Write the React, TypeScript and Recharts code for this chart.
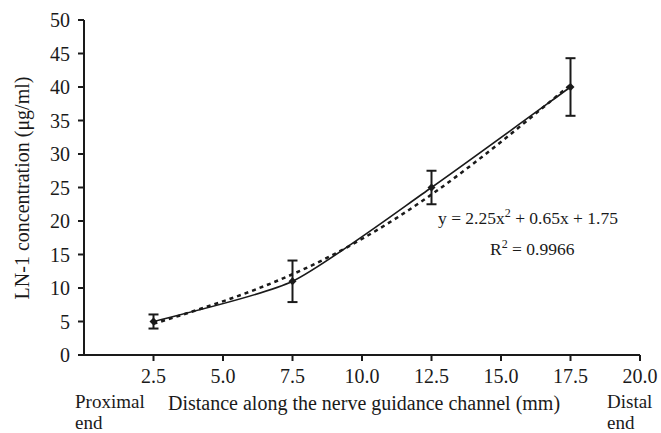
import React from "react";
import { ComposedChart, Line, XAxis, YAxis, ErrorBar } from "recharts";

const positions = [2.5, 7.5, 12.5, 17.5];
const measured = [5, 11, 25, 40];
const errors = [1.05, 3.1, 2.5, 4.3];
const trend = [4.65, 12.05, 23.95, 40.35];
const xTicks = [2.5, 5.0, 7.5, 10.0, 12.5, 15.0, 17.5, 20.0];
const yTicks = [0, 5, 10, 15, 20, 25, 30, 35, 40, 45, 50];

const data = positions.map((x, i) => ({
  x,
  y: measured[i],
  err: errors[i],
  trend: trend[i],
}));

const FONT = "'Liberation Serif', 'Times New Roman', serif";
const INK = "#1a1a1a";

// Spreadsheet-style smoothing (cardinal spline with a low tension factor)
const smoothCurve = (context: any) => {
  let pts: [number, number][] = [];
  return {
    areaStart() {},
    areaEnd() {},
    lineStart() {
      pts = [];
    },
    point(x: number, y: number) {
      pts.push([+x, +y]);
    },
    lineEnd() {
      const k = 0.11;
      const n = pts.length;
      if (!n) return;
      context.moveTo(pts[0][0], pts[0][1]);
      for (let i = 0; i < n - 1; i++) {
        const p0 = pts[Math.max(0, i - 1)];
        const p1 = pts[i];
        const p2 = pts[i + 1];
        const p3 = pts[Math.min(n - 1, i + 2)];
        const c1x = p1[0] + k * (p2[0] - p0[0]);
        const c1y = p1[1] + k * (p2[1] - p0[1]);
        const c2x = p2[0] - k * (p3[0] - p1[0]);
        const c2y = p2[1] - k * (p3[1] - p1[1]);
        context.bezierCurveTo(c1x, c1y, c2x, c2y, p2[0], p2[1]);
      }
    },
  };
};

const Diamond = (props: any) => {
  const { cx, cy } = props;
  if (cx == null || cy == null) return null;
  const r = 4;
  return (
    <path
      d={`M${cx},${cy - r}L${cx + r},${cy}L${cx},${cy + r}L${cx - r},${cy}Z`}
      fill={INK}
      stroke="none"
    />
  );
};

const textStyle: React.CSSProperties = {
  position: "absolute",
  fontFamily: FONT,
  fontSize: 19,
  color: INK,
  whiteSpace: "nowrap",
  lineHeight: "21px",
  height: 21,
};

export default function App() {
  return (
    <div
      style={{
        position: "relative",
        width: 661,
        height: 433,
        background: "#fff",
        overflow: "hidden",
      }}
    >
      <style>{"body{margin:0;}"}</style>
      <ComposedChart
        width={661}
        height={433}
        data={data}
        margin={{ top: 20, right: 21, bottom: 0, left: 0 }}
      >
        <XAxis
          dataKey="x"
          type="number"
          domain={[0, 20]}
          ticks={xTicks}
          tickFormatter={(v: number) => v.toFixed(1)}
          height={78}
          tickSize={6}
          tickMargin={8}
          stroke={INK}
          strokeWidth={2}
          tick={{ fill: INK, fontFamily: FONT, fontSize: 20 }}
        />
        <YAxis
          type="number"
          domain={[0, 50]}
          ticks={yTicks}
          width={84}
          tickSize={6}
          tickMargin={8}
          stroke={INK}
          strokeWidth={2}
          tick={{ fill: INK, fontFamily: FONT, fontSize: 20 }}
        />
        <Line
          type="natural"
          dataKey="trend"
          stroke={INK}
          strokeWidth={2.5}
          strokeDasharray="4 4"
          dot={false}
          isAnimationActive={false}
        />
        <Line
          type={smoothCurve as any}
          dataKey="y"
          stroke={INK}
          strokeWidth={1.6}
          dot={<Diamond />}
          isAnimationActive={false}
        >
          <ErrorBar dataKey="err" width={5} stroke={INK} strokeWidth={2} direction="y" />
        </Line>
      </ComposedChart>
      <div
        style={{
          ...textStyle,
          fontSize: 20,
          height: "auto",
          lineHeight: "22px",
          left: 22,
          top: 188,
          transform: "translate(-50%, -50%) rotate(-90deg)",
        }}
      >
        LN-1 concentration (μg/ml)
      </div>
      <div style={{ ...textStyle, left: 75, top: 391 }}>Proximal</div>
      <div style={{ ...textStyle, left: 75, top: 412 }}>end</div>
      <div
        style={{
          ...textStyle,
          fontSize: 20,
          lineHeight: "22px",
          height: 22,
          left: 168,
          top: 392,
        }}
      >
        Distance along the nerve guidance channel (mm)
      </div>
      <div style={{ ...textStyle, left: 607, top: 391 }}>Distal</div>
      <div style={{ ...textStyle, left: 607, top: 412 }}>end</div>
      <div
        style={{
          ...textStyle,
          left: 438,
          top: 210,
          fontSize: 17.5,
          lineHeight: "17.5px",
          height: 18,
        }}
      >
        y = 2.25x<sup style={{ fontSize: 12, lineHeight: 0 }}>2</sup> + 0.65x + 1.75
      </div>
      <div
        style={{
          ...textStyle,
          left: 490,
          top: 241,
          fontSize: 17.5,
          lineHeight: "17.5px",
          height: 18,
        }}
      >
        R<sup style={{ fontSize: 12, lineHeight: 0 }}>2</sup> = 0.9966
      </div>
    </div>
  );
}
